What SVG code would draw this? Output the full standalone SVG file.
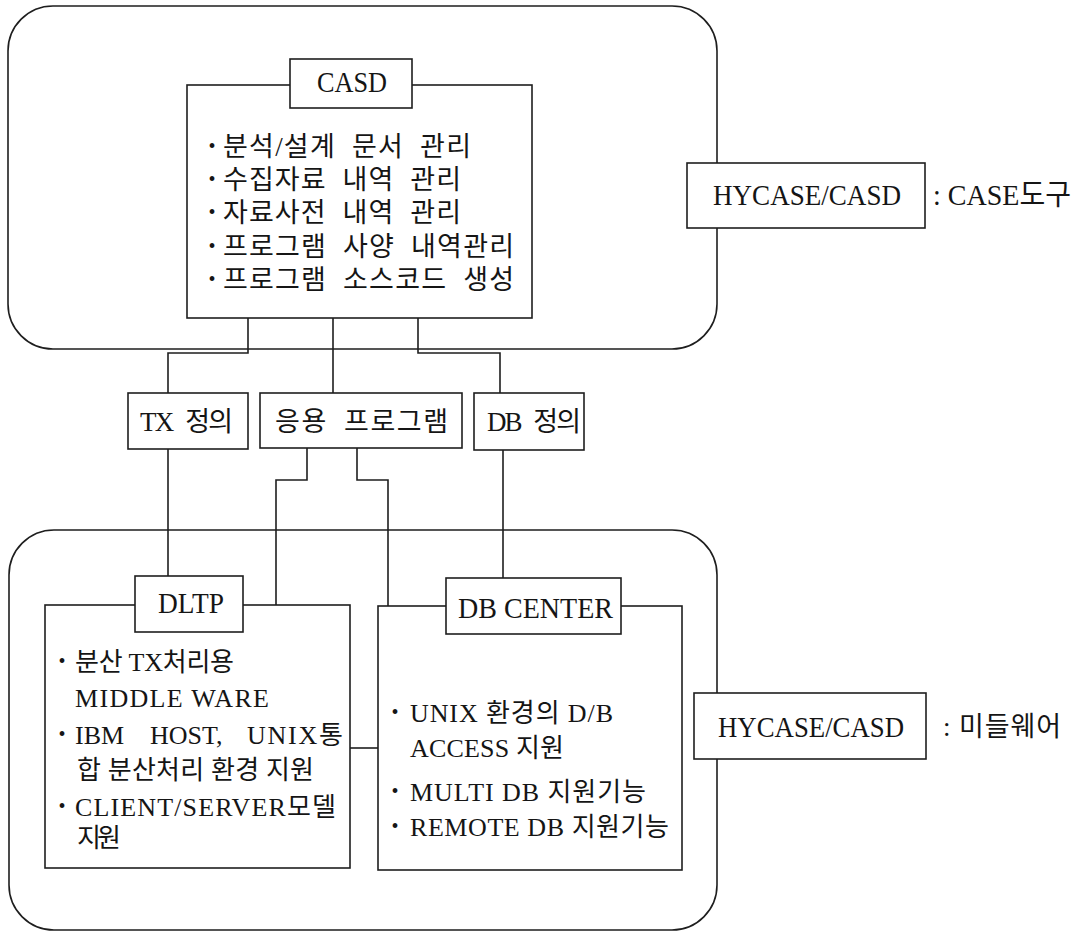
<svg xmlns="http://www.w3.org/2000/svg" width="1083" height="932" viewBox="0 0 1083 932">
<style>
.ln{fill:none;stroke:#1e1e1e;stroke-width:1.6}
.bx{fill:#fff;stroke:#1e1e1e;stroke-width:1.6}
.t{font-family:"Liberation Serif","Noto Sans CJK KR",serif;font-size:26px;fill:#151515}
.lt{font-size:29px}
.k{font-size:27px}
.ws{word-spacing:8px}
.b{font-family:"Liberation Serif",serif;font-size:20px;fill:#151515;text-anchor:middle}
</style>
<rect width="1083" height="932" fill="#fff"/>
<g id="case-area">
<rect class="ln" x="8" y="6" width="709" height="343" rx="45"/>
</g>
<g id="middleware-area">
<rect class="ln" x="9" y="530" width="708" height="400" rx="45"/>
</g>
<g id="connectors">
<path class="ln" d="M248,318 V353 H168 V393"/>
<path class="ln" d="M333,318 V393"/>
<path class="ln" d="M418,318 V353 H500 V393"/>
<path class="ln" d="M168,449 V576"/>
<path class="ln" d="M307,448 V480 H276 V605"/>
<path class="ln" d="M357,448 V480 H388 V606"/>
<path class="ln" d="M503,450 V578"/>
<path class="ln" d="M350,748 H378"/>
</g>
<g id="casd">
<rect class="bx" x="187" y="85" width="345" height="233"/>
<rect class="bx" x="290" y="59" width="122" height="49"/>
<text class="t lt" x="317" y="92" textLength="70" lengthAdjust="spacingAndGlyphs">CASD</text>
<text class="b" x="212" y="153">•</text><text class="t k ws" x="223" y="156" textLength="248" lengthAdjust="spacing">분석/설계 문서 관리</text>
<text class="b" x="212" y="186">•</text><text class="t k ws" x="223" y="189" textLength="238" lengthAdjust="spacing">수집자료 내역 관리</text>
<text class="b" x="212" y="219">•</text><text class="t k ws" x="223" y="222" textLength="238" lengthAdjust="spacing">자료사전 내역 관리</text>
<text class="b" x="212" y="253">•</text><text class="t k ws" x="223" y="256" textLength="291" lengthAdjust="spacing">프로그램 사양 내역관리</text>
<text class="b" x="212" y="286">•</text><text class="t k ws" x="223" y="289" textLength="291" lengthAdjust="spacing">프로그램 소스코드 생성</text>
</g>
<g id="tx-def">
<rect class="bx" x="128" y="393" width="120" height="56"/>
<text class="t k ws" x="140" y="431" textLength="93" lengthAdjust="spacing">TX 정의</text>
</g>
<g id="app-program">
<rect class="bx" x="260" y="393" width="202" height="55"/>
<text class="t k ws" x="275" y="431" textLength="173" lengthAdjust="spacing">응용 프로그램</text>
</g>
<g id="db-def">
<rect class="bx" x="474" y="393" width="110" height="57"/>
<text class="t k ws" x="487" y="431" textLength="94" lengthAdjust="spacing">DB 정의</text>
</g>
<g id="dltp">
<rect class="bx" x="45" y="605" width="305" height="263"/>
<rect class="bx" x="135" y="576" width="108" height="56"/>
<text class="t lt" x="158" y="613" textLength="66" lengthAdjust="spacingAndGlyphs">DLTP</text>
<text class="b" x="62" y="668">•</text><text class="t" x="75" y="671" textLength="159" lengthAdjust="spacing">분산 TX처리용</text>
<text class="t" x="75" y="707" textLength="194" lengthAdjust="spacing">MIDDLE WARE</text>
<text class="b" x="62" y="741">•</text><text class="t" y="744"><tspan x="75">IBM</tspan><tspan x="150">HOST,</tspan><tspan x="247" textLength="96" lengthAdjust="spacing">UNIX통</tspan></text>
<text class="t" x="77" y="779" textLength="237" lengthAdjust="spacing">합 분산처리 환경 지원</text>
<text class="b" x="62" y="813">•</text><text class="t" x="75" y="816" textLength="261" lengthAdjust="spacing">CLIENT/SERVER모델</text>
<text class="t" x="77" y="847" textLength="44" lengthAdjust="spacing">지원</text>
</g>
<g id="db-center">
<rect class="bx" x="378" y="606" width="304" height="264"/>
<rect class="bx" x="446" y="578" width="175" height="56"/>
<text class="t lt" x="458" y="618" textLength="155" lengthAdjust="spacingAndGlyphs">DB CENTER</text>
<text class="b" x="395" y="719">•</text><text class="t" x="410" y="722" textLength="203" lengthAdjust="spacing">UNIX 환경의 D/B</text>
<text class="t" x="410" y="757" textLength="154" lengthAdjust="spacing">ACCESS 지원</text>
<text class="b" x="395" y="798">•</text><text class="t" x="410" y="801" textLength="236" lengthAdjust="spacing">MULTI DB 지원기능</text>
<text class="b" x="395" y="833">•</text><text class="t" x="410" y="836" textLength="259" lengthAdjust="spacing">REMOTE DB 지원기능</text>
</g>
<g id="legend-case">
<rect class="bx" x="687" y="163" width="238" height="65"/>
<text class="t" x="713" y="205" style="font-size:30px" textLength="188" lengthAdjust="spacingAndGlyphs">HYCASE/CASD</text>
<text class="t lt" x="933" y="205" textLength="138" lengthAdjust="spacingAndGlyphs">: CASE도구</text>
</g>
<g id="legend-middleware">
<rect class="bx" x="694" y="693" width="232" height="66"/>
<text class="t" x="718" y="737" style="font-size:30px" textLength="186" lengthAdjust="spacingAndGlyphs">HYCASE/CASD</text>
<text class="t k" x="943" y="736" textLength="118" lengthAdjust="spacing">: 미들웨어</text>
</g>
</svg>
